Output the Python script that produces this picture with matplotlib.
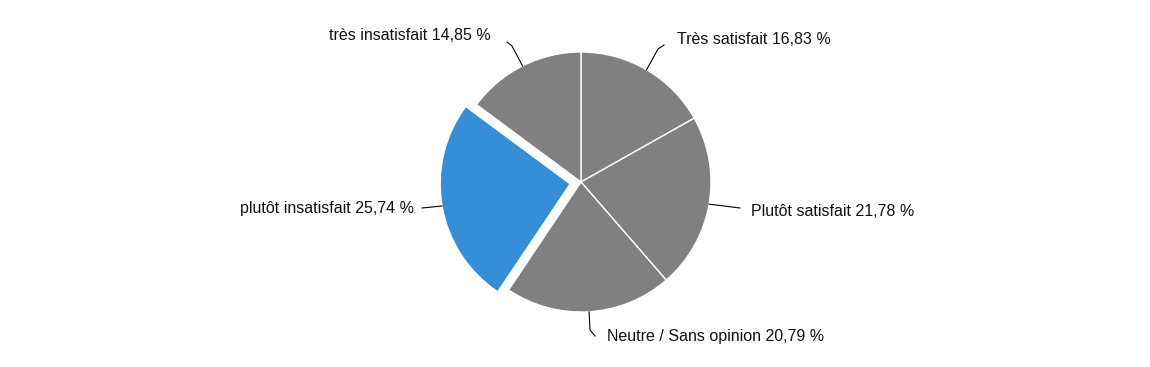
import numpy as np
import matplotlib.pyplot as plt

plt.rcParams['font.family'] = ['Liberation Sans', 'DejaVu Sans']

labels = ["Très satisfait", "Plutôt satisfait", "Neutre / Sans opinion",
          "plutôt insatisfait", "très insatisfait"]
values = [16.83, 21.78, 20.79, 25.74, 14.85]
colors = ["#808080", "#808080", "#808080", "#358fd6", "#808080"]

# text anchor (x, y in pixels, y down), ha, and leader line bend points
label_pos = [(677, 39, 'left', [(658, 49), (664, 45)]),
             (751, 211, 'left', [(740, 208)]),
             (607, 337, 'left', [(590, 330), (595, 336)]),
             (414, 209, 'right', [(422, 208)]),
             (491, 36, 'right', [(512, 46), (507, 42)])]

fig = plt.figure(figsize=(11.5, 3.67), dpi=100)
ax = fig.add_axes([0, 0, 1, 1])
H = 367
cx, cy, R = 581, H - 182, 130
explode = [0, 0, 0, 11, 0]

wedges, _ = ax.pie(values, colors=colors, explode=explode, startangle=90,
                   counterclock=False, center=(cx, cy), radius=R,
                   wedgeprops=dict(edgecolor='white', linewidth=1))

for w, lab, val, (tx, ty, ha, pts) in zip(wedges, labels, values, label_pos):
    ang = np.deg2rad((w.theta1 + w.theta2) / 2)
    ox, oy = w.center
    xs = [ox + w.r * np.cos(ang)] + [p[0] for p in pts]
    ys = [oy + w.r * np.sin(ang)] + [H - p[1] for p in pts]
    ax.plot(xs, ys, color='black', lw=0.8, solid_joinstyle='round')
    ax.text(tx, H - ty, f"{lab} {val:.2f} %".replace('.', ','), ha=ha, va='center',
            fontsize=11.5, color='#111111')

ax.set_xlim(0, 1150)
ax.set_ylim(0, H)
ax.set_aspect('equal')
ax.axis('off')
fig.savefig('out.png', dpi=100)
